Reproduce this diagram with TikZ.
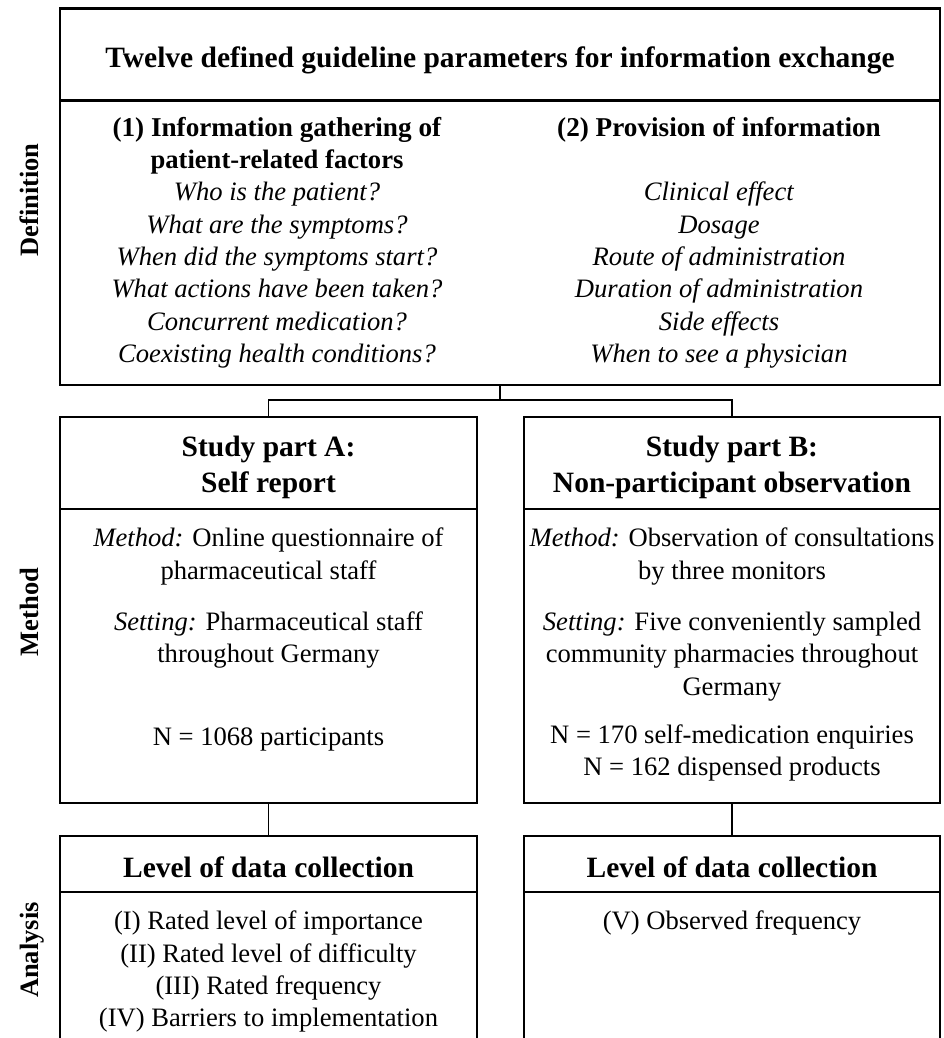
\documentclass[tikz,border=0pt]{standalone}
\usepackage{fontspec}
\setmainfont{Liberation Serif}
\usetikzlibrary{positioning}

\begin{document}
\begin{tikzpicture}[
    x=1pt, y=-1pt,
    box/.style={rectangle, draw=black, line width=2.5pt, inner sep=0pt, outer sep=0pt, align=center, font=\fontsize{29.5}{35.5}\selectfont\bfseries},
    txt/.style={anchor=north, inner sep=0pt, align=center, font=\fontsize{26.6}{32.3}\selectfont},
    side/.style={rotate=90, anchor=base, inner sep=0pt, font=\fontsize{26.5}{30}\selectfont\bfseries},
    link/.style={line width=1.8pt, black}
]

\clip (0,0) rectangle (943,1038);

% Definition
\node[box, minimum width=880pt, minimum height=91.5pt, text height=32pt, text depth=5pt] (title) at (500,54.5) {Twelve defined guideline parameters for information exchange};
\node[box, minimum width=880pt, minimum height=284.5pt] (def) at (500,242.75) {};
\node[txt] (gather) at (277,117) {\fontsize{27.2}{32.3}\selectfont\textbf{(1) Information gathering of}\\ \textbf{patient-related factors}\\
    \textit{Who is the patient?}\\ \textit{What are the symptoms?}\\ \textit{When did the symptoms start?}\\
    \textit{What actions have been taken?}\\ \textit{Concurrent medication?}\\ \textit{Coexisting health conditions?}};
\node[txt] (provide) at (719,117) {\fontsize{27.2}{32.3}\selectfont\textbf{(2) Provision of information}\\[32.3pt]
    \textit{Clinical effect}\\ \textit{Dosage}\\ \textit{Route of administration}\\
    \textit{Duration of administration}\\ \textit{Side effects}\\ \textit{When to see a physician}};

% Method
\node[box, minimum width=417pt, minimum height=92pt] (hdrA) at (268.5,463) {\rule{0pt}{29pt}Study part A:\\ Self report};
\node[box, minimum width=416pt, minimum height=92pt] (hdrB) at (732,463) {\rule{0pt}{29pt}Study part B:\\ Non-participant observation};
\node[box, minimum width=417pt, minimum height=294pt] (bodyA) at (268.5,656) {};
\node[box, minimum width=416pt, minimum height=294pt] (bodyB) at (732,656) {};
\node[txt] (methA) at (268.5,528) {\textit{Method:} Online questionnaire of\\ pharmaceutical staff\\[19pt]
    \textit{Setting:} Pharmaceutical staff\\ throughout Germany\\[50pt] N = 1068 participants};
\node[txt] (methB) at (732,528) {\textit{Method:} Observation of consultations\\ by three monitors\\[19pt]
    \textit{Setting:} Five conveniently sampled\\ community pharmacies throughout\\ Germany\\[16pt]
    N = 170 self-medication enquiries\\ N = 162 dispensed products};

% Analysis
\node[box, minimum width=417pt, minimum height=56pt, text height=27pt] (levelA) at (268.5,864) {Level of data collection};
\node[box, minimum width=416pt, minimum height=56pt, text height=27pt] (levelB) at (732,864) {Level of data collection};
\node[box, minimum width=417pt, minimum height=170pt] (anaA) at (268.5,977) {};
\node[box, minimum width=416pt, minimum height=170pt] (anaB) at (732,977) {};
\node[txt] (itemsA) at (268.5,911) {(I) Rated level of importance\\ (II) Rated level of difficulty\\
    (III) Rated frequency\\ (IV) Barriers to implementation};
\node[txt] (itemsB) at (732,911) {(V) Observed frequency};

% Connectors
\coordinate (split) at (500,400);
\draw[link] (def.south) -- (split);
\draw[link] (hdrA.north) |- (split) -| (hdrB.north);
\draw[link] (bodyA.south) -- (levelA.north);
\draw[link] (bodyB.south) -- (levelB.north);

% Side labels
\node[side] (lblDef) at (38,200) {Definition};
\node[side] (lblMeth) at (38,612) {Method};
\node[side] (lblAna) at (38,950) {Analysis};

\end{tikzpicture}
\end{document}
